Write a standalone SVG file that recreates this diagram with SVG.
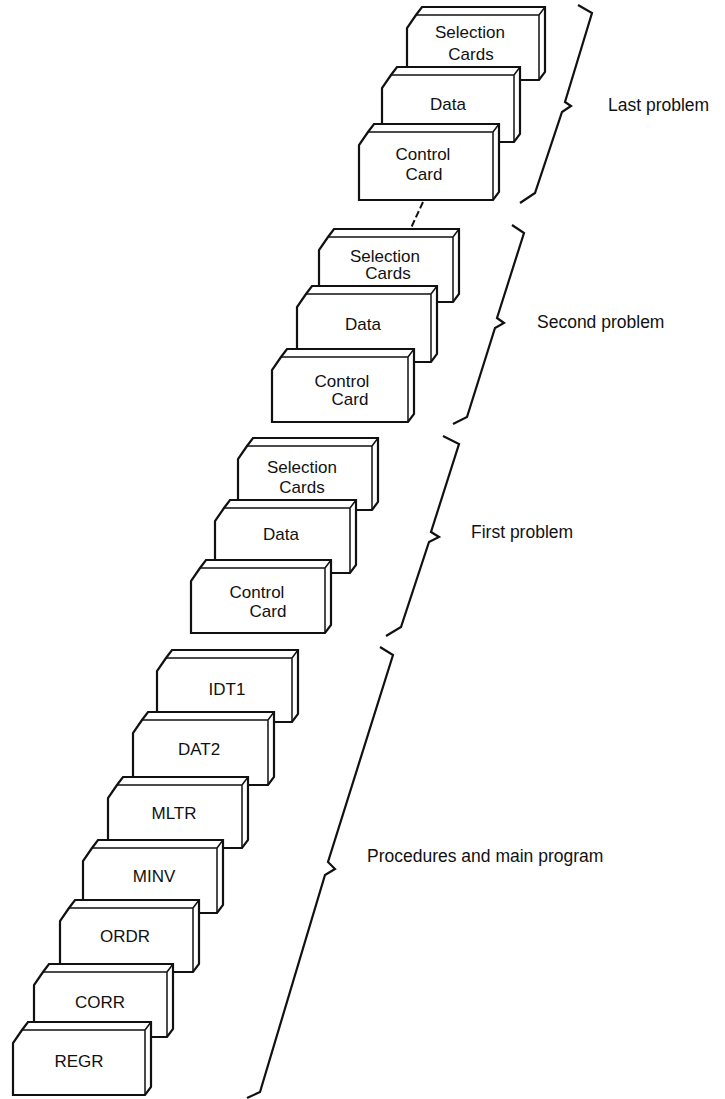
<svg xmlns="http://www.w3.org/2000/svg" width="725" height="1099" viewBox="0 0 725 1099">
  <style>
    .card .body { fill: #ffffff; stroke: #111111; stroke-width: 2.2; stroke-linejoin: miter; }
    .card .edge { fill: none; stroke: #111111; stroke-width: 1.5; }
    .card text { font-family: "Liberation Sans", Arial, sans-serif; font-size: 17px; fill: #111111; text-anchor: middle; }
    .brace { fill: none; stroke: #111111; stroke-width: 2.2; stroke-linejoin: miter; }
    .dash { fill: none; stroke: #111111; stroke-width: 2; stroke-dasharray: 7 3; }
    .label { font-family: "Liberation Sans", Arial, sans-serif; font-size: 17.5px; fill: #111111; }
  </style>
  <rect width="725" height="1099" fill="#ffffff"/>

  <!-- Each card: front face with clipped top-left corner, extruded by (6,-8) -->
  <!-- Last problem -->
  <g id="last-selection" class="card">
    <path class="body" d="M407,80 V28 L416,15 L422,7 H545 V72 L539,80 Z"/>
    <path class="edge" d="M416,15 H539 V80 M539,15 L545,7"/>
    <text x="470" y="38">Selection</text>
    <text x="471" y="60">Cards</text>
  </g>
  <g id="last-data" class="card">
    <path class="body" d="M382,142 V88 L391,75 L397,67 H520 V134 L514,142 Z"/>
    <path class="edge" d="M391,75 H514 V142 M514,75 L520,67"/>
    <text x="448" y="110">Data</text>
  </g>
  <g id="last-control" class="card">
    <path class="body" d="M359,200 V145 L368,132 L374,124 H499 V192 L493,200 Z"/>
    <path class="edge" d="M368,132 H493 V200 M493,132 L499,124"/>
    <text x="423" y="160">Control</text>
    <text x="424" y="180">Card</text>
  </g>

  <!-- Second problem -->
  <g id="second-selection" class="card">
    <path class="body" d="M319,302 V250 L328,237 L334,229 H459 V294 L453,302 Z"/>
    <path class="edge" d="M328,237 H453 V302 M453,237 L459,229"/>
    <text x="385" y="262">Selection</text>
    <text x="388" y="279">Cards</text>
  </g>
  <g id="second-data" class="card">
    <path class="body" d="M297,362 V307 L306,294 L312,286 H437 V354 L431,362 Z"/>
    <path class="edge" d="M306,294 H431 V362 M431,294 L437,286"/>
    <text x="363" y="330">Data</text>
  </g>
  <g id="second-control" class="card">
    <path class="body" d="M272,422 V370 L281,357 L287,349 H414 V414 L408,422 Z"/>
    <path class="edge" d="M281,357 H408 V422 M408,357 L414,349"/>
    <text x="342" y="387">Control</text>
    <text x="350" y="405">Card</text>
  </g>

  <!-- First problem -->
  <g id="first-selection" class="card">
    <path class="body" d="M238,510 V459 L247,446 L253,438 H378 V502 L372,510 Z"/>
    <path class="edge" d="M247,446 H372 V510 M372,446 L378,438"/>
    <text x="302" y="473">Selection</text>
    <text x="302" y="493">Cards</text>
  </g>
  <g id="first-data" class="card">
    <path class="body" d="M215,573 V521 L224,508 L230,500 H356 V565 L350,573 Z"/>
    <path class="edge" d="M224,508 H350 V573 M350,508 L356,500"/>
    <text x="281" y="540">Data</text>
  </g>
  <g id="first-control" class="card">
    <path class="body" d="M191,633 V581 L200,568 L206,560 H331 V625 L325,633 Z"/>
    <path class="edge" d="M200,568 H325 V633 M325,568 L331,560"/>
    <text x="257" y="598">Control</text>
    <text x="268" y="617">Card</text>
  </g>

  <!-- Procedures and main program -->
  <g id="idt1" class="card">
    <path class="body" d="M157,722 V671 L166,658 L172,650 H298 V714 L292,722 Z"/>
    <path class="edge" d="M166,658 H292 V722 M292,658 L298,650"/>
    <text x="227" y="695">IDT1</text>
  </g>
  <g id="dat2" class="card">
    <path class="body" d="M133,785 V733 L142,720 L148,712 H274 V777 L268,785 Z"/>
    <path class="edge" d="M142,720 H268 V785 M268,720 L274,712"/>
    <text x="199" y="755">DAT2</text>
  </g>
  <g id="mltr" class="card">
    <path class="body" d="M108,848 V798 L117,785 L123,777 H248 V840 L242,848 Z"/>
    <path class="edge" d="M117,785 H242 V848 M242,785 L248,777"/>
    <text x="174" y="819">MLTR</text>
  </g>
  <g id="minv" class="card">
    <path class="body" d="M83,913 V861 L92,848 L98,840 H223 V905 L217,913 Z"/>
    <path class="edge" d="M92,848 H217 V913 M217,848 L223,840"/>
    <text x="154" y="882">MINV</text>
  </g>
  <g id="ordr" class="card">
    <path class="body" d="M60,972 V921 L69,908 L75,900 H199 V964 L193,972 Z"/>
    <path class="edge" d="M69,908 H193 V972 M193,908 L199,900"/>
    <text x="125" y="942">ORDR</text>
  </g>
  <g id="corr" class="card">
    <path class="body" d="M34,1037 V985 L43,972 L49,964 H173 V1029 L167,1037 Z"/>
    <path class="edge" d="M43,972 H167 V1037 M167,972 L173,964"/>
    <text x="100" y="1008">CORR</text>
  </g>
  <g id="regr" class="card">
    <path class="body" d="M13,1095 V1043 L22,1030 L28,1022 H151 V1087 L145,1095 Z"/>
    <path class="edge" d="M22,1030 H145 V1095 M145,1030 L151,1022"/>
    <text x="79" y="1067">REGR</text>
  </g>

  <!-- Connectors: dashed continuation and grouping braces -->
  <g id="connectors">
    <path class="dash" d="M423,202 L411,228"/>
    <polyline class="brace" points="578,5 592,13 565,102 571,106 562,112 535,193 520,203"/>
    <polyline class="brace" points="512,225 524,233 497,318 504,323 495,328 467,417 453,424"/>
    <polyline class="brace" points="443,436 459,444 431,532 439,537 429,542 401,627 386,636"/>
    <polyline class="brace" points="380,647 393,655 328,862 335,869 325,875 260,1092 247,1098"/>
  </g>

  <g id="labels">
    <text class="label" x="608" y="111">Last problem</text>
    <text class="label" x="537" y="328">Second problem</text>
    <text class="label" x="471" y="538">First problem</text>
    <text class="label" x="367" y="862">Procedures and main program</text>
  </g>
</svg>
